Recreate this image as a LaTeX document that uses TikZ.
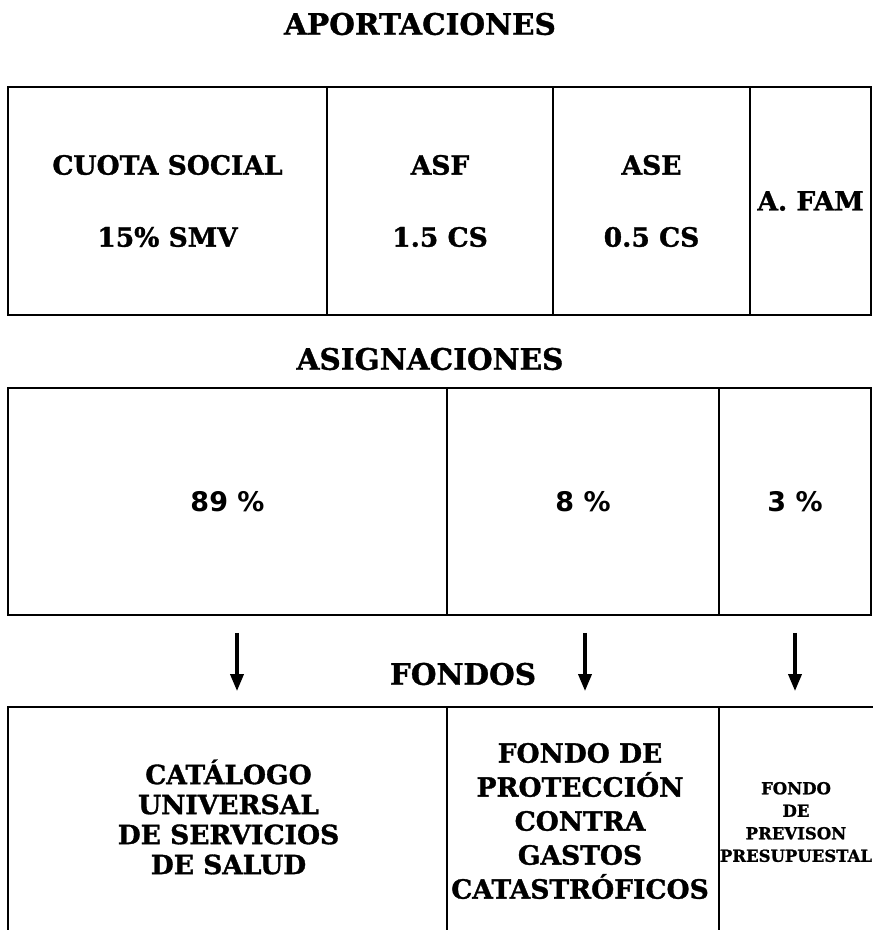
\documentclass[tikz,border=0pt]{standalone}
\usepackage{fontspec}
\setmainfont{DejaVu Serif}[BoldFeatures={FakeBold=1.2}]
\newfontfamily\numfont{DejaVu Sans}
\usetikzlibrary{arrows.meta}
\tikzset{
  cell/.style={draw=black, line width=1.8pt, inner sep=0pt},
  two/.style={align=center, font=\bfseries\fontsize{26.5}{72}\selectfont},
  one/.style={font=\bfseries\fontsize{26.5}{30}\selectfont},
  pct/.style={font=\numfont\bfseries\fontsize{27}{30}\selectfont},
  txt/.style={inner sep=0pt, align=center, font=\bfseries\fontsize{26.5}{30}\selectfont},
  heading/.style={inner sep=0pt, font=\bfseries\fontsize{29.5}{32}\selectfont},
  small/.style={inner sep=0pt, align=center, font=\bfseries\fontsize{16.5}{22.5}\selectfont},
  flow/.style={line width=3.5pt, -{Triangle[length=17pt,width=13pt]}}
}
\begin{document}
\begin{tikzpicture}[x=1pt,y=-1pt]
\useasboundingbox (0,0) rectangle (873,930);
% headings
\node[heading] (hap) at (420,24) {APORTACIONES};
\node[heading] (has) at (430,359) {ASIGNACIONES};
\node[heading] (hfo) at (463,674) {FONDOS};
% aportaciones
\node[cell, two, minimum width=319pt, minimum height=228pt] (c1) at (167.5,201) {CUOTA SOCIAL\\15\% SMV};
\node[cell, two, minimum width=226pt, minimum height=228pt] (c2) at (440,201) {ASF\\1.5 CS};
\node[cell, two, minimum width=197pt, minimum height=228pt] (c3) at (651.5,201) {ASE\\0.5 CS};
\node[cell, one, minimum width=121pt, minimum height=228pt] (c4) at (810.5,201) {A. FAM};
% asignaciones
\node[cell, pct, minimum width=439pt, minimum height=227pt] (a1) at (227.5,501.5) {89 \%};
\node[cell, pct, minimum width=272pt, minimum height=227pt] (a2) at (583,501.5) {8 \%};
\node[cell, pct, minimum width=152pt, minimum height=227pt] (a3) at (795,501.5) {3 \%};
% fondos
\node[cell, minimum width=439pt, minimum height=240pt] (f1) at (227.5,827) {};
\node[cell, minimum width=272pt, minimum height=240pt] (f2) at (583,827) {};
\node[cell, minimum width=170pt, minimum height=240pt] (f3) at (804,827) {};
\node[txt] (f1t) at (228.5,817) {CATÁLOGO\\UNIVERSAL\\DE SERVICIOS\\DE SALUD};
\node[txt, font=\bfseries\fontsize{26.5}{34}\selectfont] (f2t) at (580,821) {FONDO DE\\PROTECCIÓN\\CONTRA\\GASTOS\\CATASTRÓFICOS};
\node[small] (f3t) at (796,822) {FONDO\\DE\\PREVISON\\PRESUPUESTAL};
% arrows
\draw[flow] ([xshift=9.5pt,yshift=-17pt]a1.south) -- ([xshift=9.5pt,yshift=15pt]f1.north);
\draw[flow] ([xshift=2pt,yshift=-17pt]a2.south) -- ([xshift=2pt,yshift=15pt]f2.north);
\draw[flow] ([yshift=-17pt]a3.south) -- ([yshift=15pt]a3.south |- f3.north);
\end{tikzpicture}
\end{document}
